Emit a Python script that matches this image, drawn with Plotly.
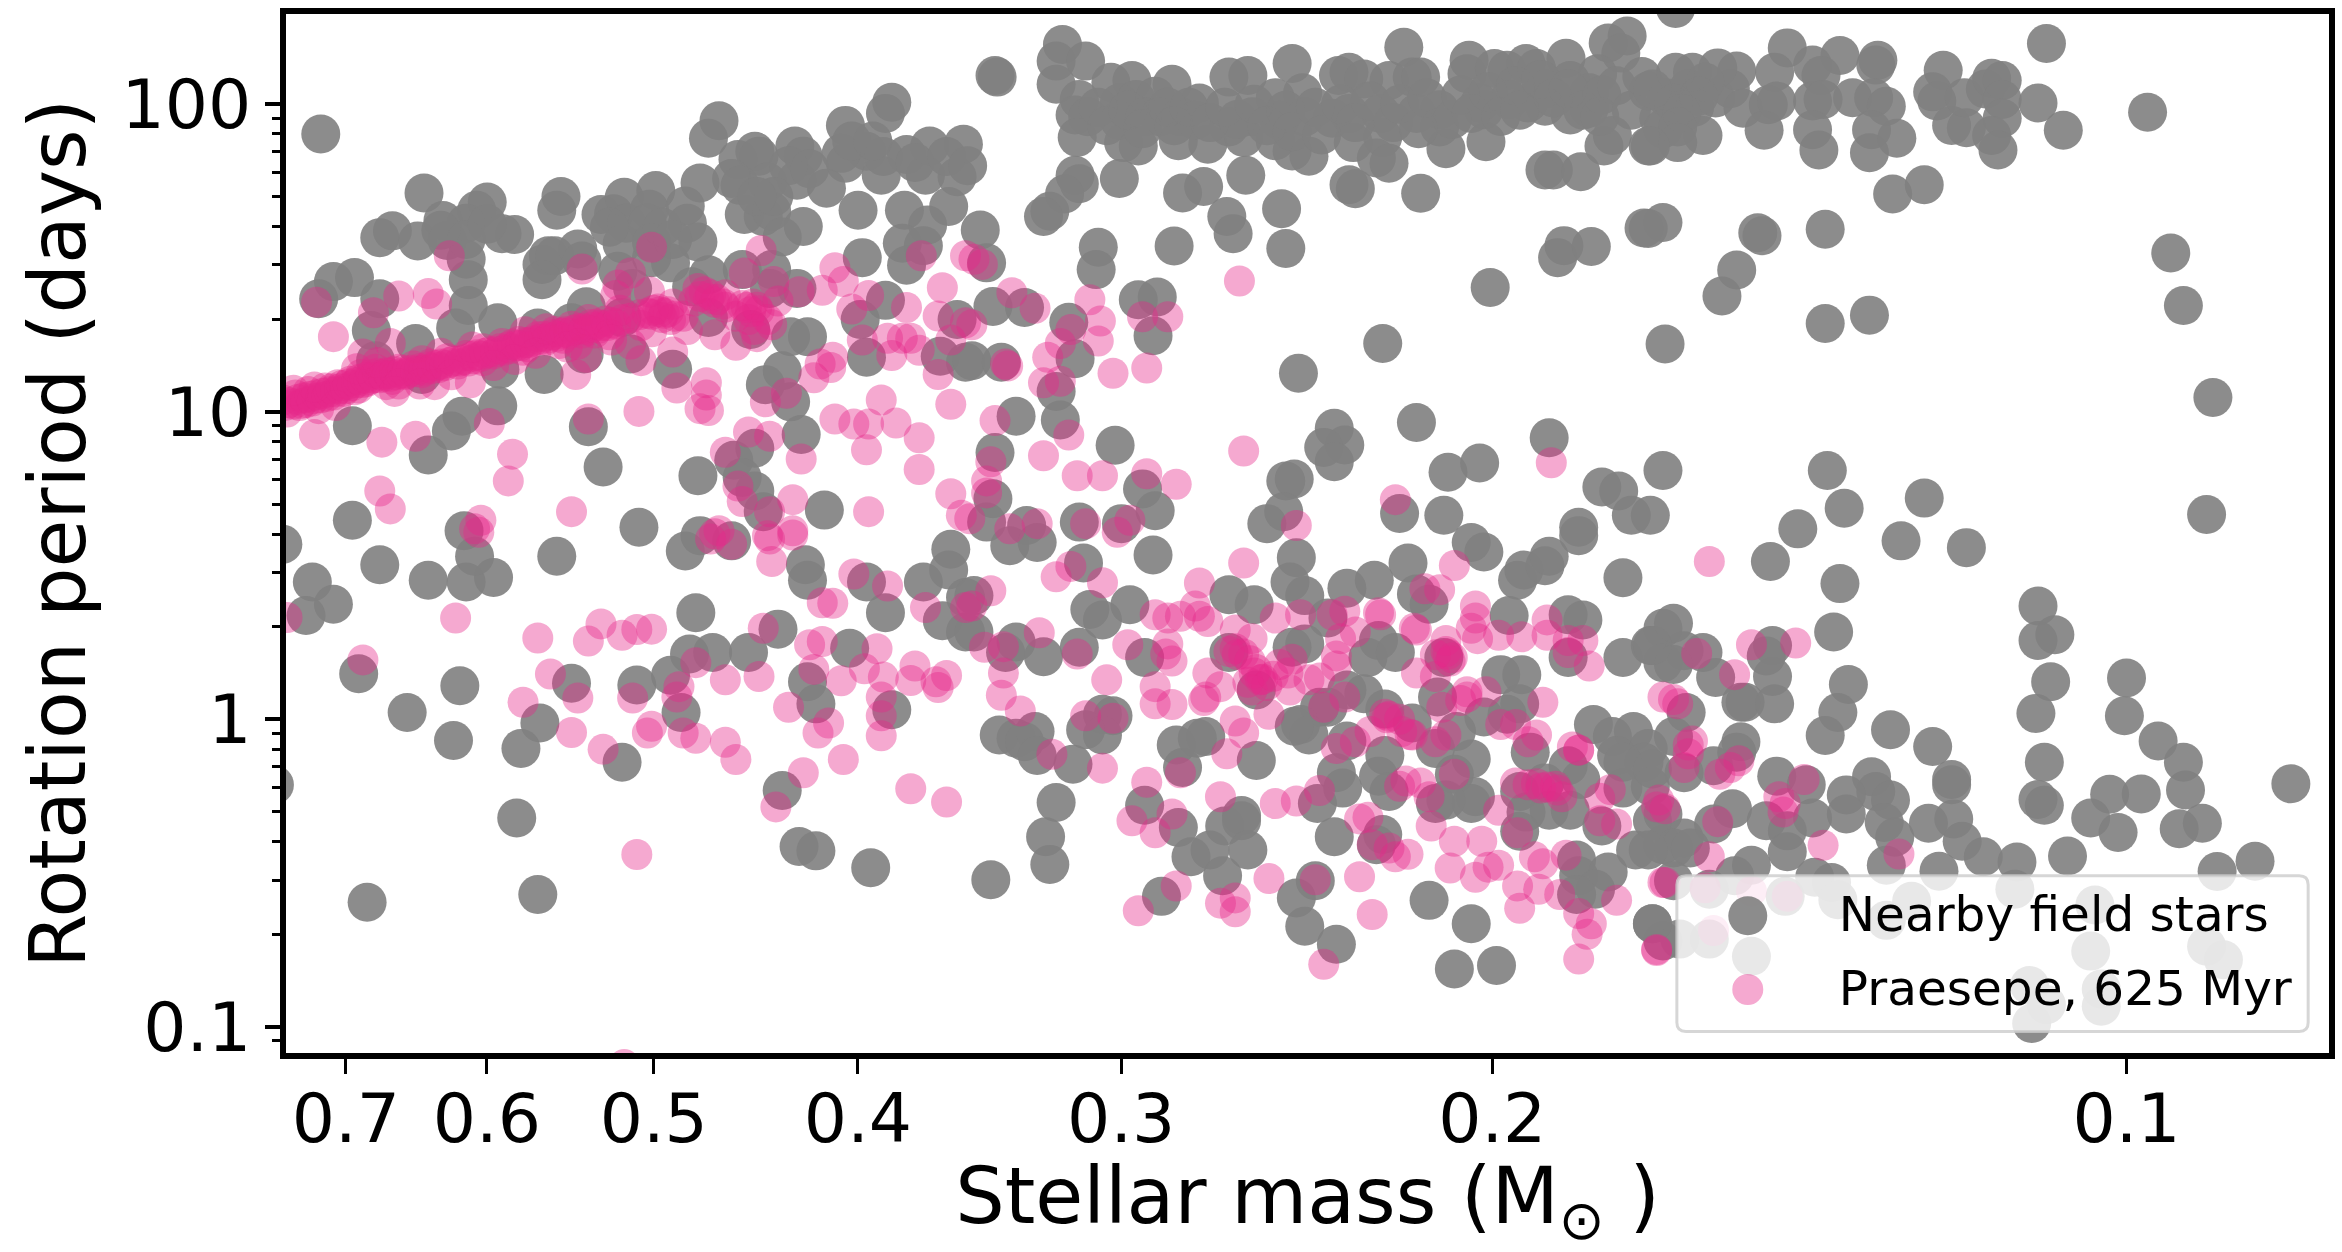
import numpy as np
import plotly.graph_objects as go

# All values below are (log10 stellar mass [Msun], log10 rotation period [days]).
field_top_left = [(-.143,1.903),(-.192,1.711),(-.222,1.682),(-.217,1.655),(-.201,1.622),(-.177,1.588),(-.171,1.566),(-.189,1.555),(-.203,1.557),(-.212,1.613),(-.235,1.576),(-.229,1.579),(-.257,1.700),(-.255,1.655),(-.276,1.641),(-.282,1.644),(-.287,1.697),(-.302,1.719),(-.299,1.658),(-.316,1.669),(-.323,1.744),(-.332,1.946),(-.327,1.889),(-.341,1.820),(-.349,1.847),(-.351,1.831),(-.368,1.864),(-.372,1.831),(-.392,1.931),(-.411,1.970),(-.414,2.006),(-.402,1.847),(-.392,1.808),(-.383,1.727),(-.338,1.758),(-.342,1.736),(-.355,1.747),(-.369,1.753),(-.344,1.641),(-.353,1.635),(-.357,1.652),(-.372,1.602),(-.362,1.568),(-.398,1.655),(-.420,1.655),(-.421,1.836),(-.409,1.769),(-.430,1.769),(-.432,1.864),(-.441,1.667),(-.445,1.764),(-.448,1.870),(-.431,1.607),(-.419,1.548),(-.429,1.540),(-.421,1.476),(-.400,1.501),(-.357,1.462),(-.343,1.462),(-.327,1.445),(-.319,1.406),(-.309,1.484),(-.300,1.501),(-.286,1.546),(-.288,1.613),(-.298,1.613),(-.317,1.613),(-.322,1.552),(-.251,1.507),(-.248,1.479),(-.254,1.507),(-.265,1.529),(-.267,1.490),(-.248,1.429),(-.284,1.457),(-.291,1.401),(-.159,1.436),(-.149,1.423),(-.142,1.367),(-.171,1.367),(-.167,1.264),(-.188,1.222),(-.212,1.496),(-.213,1.429),(-.213,1.345),(-.207,1.272),(-.227,1.289),(-.246,1.272),(-.269,1.341),(-.262,1.289),(-.286,1.306),(-.369,1.401),(-.356,1.401),(-.347,1.267),(-.366,1.244),(-.374,1.244),(-.327,1.306),(-.399,1.300),(-.411,1.362),(-.445,1.300),(-.402,1.177),(-.437,1.180),(-.449,1.161),(-.290,1.188),(-.310,1.138),(-.268,1.188),(-.249,1.121),(-.228,1.138),(-.191,1.121),(-.169,1.166),(-.362,1.133),(-.354,1.088),(-.366,1.032),(-.227,1.019),(-.210,.985),(-.205,.937),(-.194,.859),(-.158,.954),(-.270,.951),(-.371,.926),(-.349,.881),(-.339,.842),(-.277,.820),(-.322,.792),(-.343,.786),(-.349,.742),(-.353,.675),(-.382,.680),(-.158,.647),(-.211,.613),(-.294,.624)]
field_top_mid = [(-.495,2.194),(-.492,2.140),(-.506,2.140),(-.492,2.065),(-.464,2.088),(-.463,2.093),(-.518,2.071),(-.528,2.077),(-.547,2.065),(-.503,2.015),(-.501,1.965),(-.507,1.959),(-.522,2.004),(-.530,2.015),(-.539,2.026),(-.522,1.948),(-.534,1.959),(-.541,1.959),(-.551,1.959),(-.560,2.004),(-.502,1.892),(-.524,1.875),(-.531,1.864),(-.550,1.881),(-.564,1.870),(-.558,1.948),(-.574,2.088),(-.583,2.093),(-.596,2.021),(-.609,2.037),(-.604,2.132),(-.626,2.093),(-.631,2.104),(-.638,2.082),(-.650,2.077),(-.657,2.185),(-.661,2.088),(-.665,2.088),(-.688,2.143),(-.687,2.099),(-.700,2.116),(-.706,2.110),(-.715,2.132),(-.720,2.116),(-.734,2.149),(-.754,2.199),(-.763,2.222),(-.760,2.166),(-.773,2.043),(-.749,2.099),(-.736,2.077),(-.724,2.049),(-.707,2.015),(-.693,2.004),(-.674,1.982),(-.663,1.970),(-.646,1.970),(-.631,1.970),(-.623,1.954),(-.610,1.959),(-.598,1.948),(-.585,1.959),(-.574,1.926),(-.581,1.892),(-.596,1.881),(-.604,1.848),(-.612,1.831),(-.633,1.875),(-.647,1.892),(-.644,1.825),(-.650,1.808),(-.674,1.926),(-.677,1.855),(-.696,1.878),(-.695,1.982),(-.716,2.004),(-.724,1.993),(-.736,1.965),(-.745,1.987),(-.745,2.037),(-.752,1.864),(-.756,1.898),(-.773,1.864),(-.778,1.954),(-.724,1.786),(-.728,1.786),(-.741,1.780),(-.665,1.710),(-.631,1.738),(-.634,1.725),(-.582,1.769),(-.562,1.732),(-.552,1.711),(-.522,1.758),(-.501,1.769),(-.503,1.741),(-.496,1.708),(-.489,1.652),(-.486,1.635),(-.456,1.591),(-.599,1.660),(-.573,1.635),(-.576,1.579),(-.601,1.531),(-.548,1.539),(-.512,1.535),(-.511,1.462),(-.459,1.484),(-.733,1.540),(-.730,1.501),(-.746,1.537),(-.771,1.597),(-.780,1.615),(-.698,1.404),(-.647,1.222),(-.607,1.125),(-.531,1.364),(-.540,1.373),(-.538,1.247),(-.498,1.291),(-.501,1.172),(-.477,1.339),(-.462,1.342),(-.452,1.166),(-.466,1.161),(-.492,1.066),(-.473,.985),(-.494,.973),(-.520,.891),(-.463,.867),(-.462,.717),(-.459,.641),(-.503,.641),(-.523,.636),(-.478,.630),(-.533,.749),(-.539,.678),(-.601,.775),(-.605,.781),(-.600,.675),(-.592,.636),(-.663,.965),(-.624,.946),(-.629,.892),(-.619,.884),(-.624,.837),(-.726,.915),(-.678,.803),(-.693,.833),(-.655,.669),(-.676,.663),(-.751,.755),(-.759,.742),(-.765,.663),(-.740,.624),(-.780,.809)]
field_ridge = [(-.512,1.99),(-.516,1.93),(-.526,1.98),(-.533,1.92),(-.545,1.99),(-.548,1.93),(-.555,1.99),(-.565,1.94),(-.572,1.99),(-.578,1.95),(-.586,2.00),(-.592,1.93),(-.601,1.98),(-.604,1.91),(-.615,1.99),(-.618,1.90),(-.627,2.00),(-.634,1.94),(-.641,2.01),(-.652,1.94),(-.655,2.00),(-.664,1.92),(-.668,2.02),(-.680,1.95),(-.684,2.03),(-.689,1.97),(-.697,2.04),(-.703,1.96),(-.710,2.06),(-.712,1.98),(-.722,2.08),(-.728,2.02),(-.735,2.05),(-.742,1.98),(-.751,2.03),(-.758,2.06),(-.750,1.96),(-.765,1.98),(-.770,2.09),(-.782,2.02),(-.792,2.05),(-.780,1.92),(-.805,2.02),(-.795,1.99),(-.812,2.05),(-.365,1.80),(-.358,1.70),(-.350,1.70),(-.375,1.79),(-.390,1.84),(-.395,1.88),(-.410,1.83),(-.425,1.81),(-.440,1.83),(-.450,1.80),(-.405,1.88),(-.300,1.55),(-.310,1.56),(-.305,1.60),(-.280,1.60),(-.212,1.56),(-.222,1.61),(-.200,1.59)]
field_top_right = [(-.962,2.197),(-.839,2.183),(-.864,2.158),(-.882,2.143),(-.881,2.127),(-.851,2.127),(-.855,2.093),(-.833,2.104),(-.815,2.108),(-.806,2.118),(-.794,2.104),(-.786,2.104),(-.800,2.071),(-.797,2.026),(-.785,2.004),(-.775,2.049),(-.789,1.970),(-.787,1.926),(-.799,1.898),(-.787,1.875),(-.774,1.864),(-.818,1.987),(-.830,1.998),(-.834,2.010),(-.828,1.915),(-.851,2.010),(-.856,2.015),(-.851,1.917),(-.854,1.851),(-.870,2.021),(-.880,2.021),(-.886,1.993),(-.879,1.917),(-.878,1.842),(-.891,1.889),(-.913,2.110),(-.908,2.040),(-.910,2.010),(-.917,1.931),(-.924,1.923),(-.923,2.021),(-.933,2.049),(-.936,2.084),(-.941,2.077),(-.941,2.015),(-.941,1.954),(-.936,1.898),(-.939,1.851),(-.958,2.004),(-.970,1.915),(-1.010,1.974),(-.904,1.738),(-.889,1.708),(-.773,1.596),(-.825,1.582),(-.827,1.572),(-.857,1.593),(-.815,1.461),(-.808,1.376),(-.857,1.287),(-.878,1.314),(-.781,1.220),(-1.021,1.516),(-1.027,1.345),(-1.041,1.046),(-.858,.809),(-.866,.686),(-.904,.719),(-.844,.619),(-1.038,.666),(-.786,2.311),(-.774,.663)]
field_low_right = [(-.893,.580),(-.924,.558),(-.831,.513),(-.864,.441),(-.861,.284),(-.958,.368),(-.958,.256),(-.966,.275),(-.964,.122),(-.957,.019),(-1.000,.134),(-.999,.011),(-1.015,-.071),(-1.027,-.140),(-1.028,-.230),(-1.078,-.210),(-.961,-.140),(-.958,-.261),(-.961,-.280),(-.992,-.244),(-1.007,-.243),(-.983,-.321),(-.996,-.368),(-1.025,-.356),(-1.036,-.338),(-1.061,-.462),(-1.043,-.495),(-.972,-.445),(-.948,-.464),(-.932,-.447),(-.922,-.397),(-.918,-.324),(-.906,-.338),(-.917,-.213),(-.917,-.196),(-.908,-.089),(-.888,-.034),(-.868,.113),(-.863,.022),(-.857,-.053),(-.879,-.187),(-.881,-.235),(-.888,-.263),(-.885,-.336),(-.867,-.246),(-.867,-.308),(-.890,-.384),(-.886,-.475),(-.911,-.494),(-.852,-.514),(-.860,-.531),(-.834,-.185),(-.848,-.213),(-.851,-.321),(-.839,-.363),(-.829,-.330),(-.839,-.431),(-.822,-.475),(-.813,-.291),(-.804,-.341),(-.790,-.386),(-.785,-.419),(-.793,-.419),(-.817,-.073),(-.815,-.107),(-.804,-.151),(-.790,-.174),(-.785,-.056),(-.791,.022),(-.817,.055),(-.819,.055),(-.833,.050),(-.832,.139),(-.805,.136),(-.799,.217),(-.790,.223),(-.785,.178),(-.785,.312),(-.775,.240),(-.832,.240),(-.829,.206),(-.775,-.162),(-.775,-.330),(-.773,-.425),(-.785,-.525),(-.802,-.553),(-.814,-.509),(-.838,-.576),(-.863,-.587),(-.886,-.654),(-.898,-.592),(-.985,-.604),(-.947,-.553),(-.822,-.771),(-.788,-.715),(-.802,-.715),(-.775,-.665),(-.983,-.754),(-1.038,-.738),(-1.046,-.782),(-.954,-.866),(-.962,-.928),(-.988,-.933),(-.955,-.989),(-.988,-.877)]
field_low_left = [(-.171,.502),(-.194,.452),(-.212,.446),(-.225,.461),(-.216,.530),(-.255,.530),(-.139,.446),(-.149,.374),(-.136,.337),(-.125,.569),(-.161,.148),(-.209,.109),(-.184,.022),(-.206,-.069),(-.247,-.012),(-.238,-.095),(-.236,-.321),(-.246,-.570),(-.165,-.595),(-.121,-.213),(-.262,.117),(-.293,.111),(-.309,.143),(-.318,.212),(-.329,.217),(-.346,.217),(-.360,.293),(-.321,.346),(-.316,.547),(-.338,.580),(-.323,.597),(-.373,.502),(-.374,.452),(-.402,.446),(-.411,.346),(-.429,.446),(-.438,.320),(-.442,.553),(-.441,.485),(-.394,.231),(-.374,.122),(-.378,.050),(-.414,.031),(-.314,.022),(-.286,-.140),(-.362,-.232),(-.370,-.414),(-.378,-.428),(-.404,-.483),(-.449,.396),(-.449,.284)]
field_low_mid = [(-.538,.534),(-.505,.508),(-.470,.564),(-.483,.575),(-.453,.402),(-.453,.284),(-.508,.357),(-.527,.372),(-.514,.323),(-.473,.251),(-.468,.217),(-.486,.203),(-.503,.234),(-.534,.201),(-.574,.405),(-.586,.372),(-.606,.525),(-.603,.446),(-.610,.402),(-.630,.426),(-.643,.452),(-.659,.508),(-.663,.407),(-.669,.374),(-.689,.575),(-.695,.544),(-.711,.452),(-.714,.485),(-.724,.499),(-.726,.530),(-.740,.597),(-.761,.460),(-.707,.337),(-.735,.340),(-.742,.323),(-.735,.201),(-.761,.201),(-.774,.240),(-.780,.296),(-.780,.184),(-.574,.217),(-.604,.234),(-.610,.245),(-.621,.329),(-.645,.256),(-.640,.201),(-.653,.217),(-.676,.201),(-.638,.083),(-.630,.095),(-.587,.095),(-.617,.039),(-.621,.039),(-.608,-.017),(-.612,-.051),(-.605,-.023),(-.673,.072),(-.703,.145),(-.713,.145),(-.712,.050),(-.695,.007),(-.706,.016),(-.747,-.017),(-.756,-.056),(-.766,-.040),(-.773,-.095),(-.758,-.118),(-.771,-.140),(-.661,-.012),(-.648,.033),(-.682,-.040),(-.689,-.129),(-.672,-.095),(-.630,-.071),(-.648,-.118),(-.625,-.174),(-.628,-.224),(-.645,-.185),(-.650,-.235),(-.681,-.179),(-.691,-.252),(-.689,-.274),(-.672,-.274),(-.677,-.263),(-.616,-.274),(-.624,-.382),(-.647,-.375),(-.644,-.408),(-.514,.016),(-.519,.011),(-.506,-.034),(-.514,-.051),(-.465,-.051),(-.473,-.062),(-.482,-.040),(-.477,-.073),(-.483,-.118),(-.500,-.146),(-.549,-.084),(-.563,-.056),(-.552,-.157),(-.559,-.062),(-.587,-.134),(-.492,-.271),(-.487,-.382),(-.489,-.472),(-.461,-.522),(-.534,-.280),(-.550,-.352),(-.580,-.313),(-.572,-.347),(-.580,-.330),(-.583,-.425),(-.565,-.425),(-.556,-.447),(-.571,-.509),(-.542,-.576),(-.606,-.581),(-.615,-.525),(-.610,-.673),(-.625,-.732),(-.669,-.589),(-.689,-.665),(-.681,-.812),(-.701,-.801),(-.717,-.107),(-.712,-.235),(-.724,-.207),(-.735,-.151),(-.741,-.196),(-.726,-.296),(-.715,-.302),(-.736,-.296),(-.712,-.364),(-.761,-.224),(-.774,-.218),(-.761,-.140),(-.751,-.347),(-.780,-.308),(-.767,-.425),(-.739,-.458),(-.740,-.509),(-.754,-.497),(-.748,-.553),(-.739,-.570),(-.775,-.665),(-.780,-.408),(-.780,-.721)]

praesepe_band = [(-.125,1.038),(-.127,.999),(-.131,1.054),(-.134,1.027),(-.137,1.066),(-.140,1.043),(-.142,1.010),(-.145,1.077),(-.149,1.054),(-.151,1.088),(-.154,1.066),(-.157,1.099),(-.159,1.071),(-.162,1.121),(-.165,1.099),(-.169,1.138),(-.171,1.110),(-.174,1.127),(-.177,1.105),(-.180,1.138),(-.183,1.121),(-.187,1.149),(-.191,1.127),(-.195,1.155),(-.199,1.144),(-.203,1.172),(-.208,1.155),(-.212,1.183),(-.216,1.172),(-.220,1.205),(-.225,1.188),(-.229,1.222),(-.233,1.205),(-.237,1.228),(-.241,1.211),(-.246,1.244),(-.250,1.233),(-.254,1.261),(-.258,1.239),(-.262,1.278),(-.267,1.256),(-.271,1.283),(-.275,1.272),(-.278,1.295),(-.273,1.256),(-.256,1.222),(-.239,1.200),(-.220,1.166),(-.191,1.166),(-.174,1.088),(-.161,1.077),(-.303,1.334),(-.305,1.306),(-.300,1.317),(-.309,1.300),(-.325,1.390),(-.327,1.367),(-.330,1.356),(-.334,1.350),(-.345,1.339),(-.348,1.350),(-.351,1.328),(-.346,1.300),(-.349,1.267)]
praesepe_band_dense = [(-.126,1.020),(-.128,1.030),(-.130,1.025),(-.132,1.040),(-.133,1.020),(-.135,1.045),(-.136,1.030),(-.138,1.050),(-.139,1.035),(-.141,1.055),(-.143,1.045),(-.144,1.060),(-.146,1.050),(-.147,1.065),(-.148,1.075),(-.150,1.065),(-.152,1.075),(-.153,1.085),(-.155,1.075),(-.156,1.090),(-.158,1.085),(-.160,1.095),(-.161,1.105),(-.163,1.095),(-.164,1.110),(-.166,1.105),(-.167,1.120),(-.168,1.110),(-.170,1.125),(-.172,1.120),(-.173,1.115),(-.175,1.125),(-.176,1.115),(-.178,1.130),(-.179,1.120),(-.181,1.125),(-.182,1.135),(-.184,1.125),(-.186,1.135),(-.188,1.130),(-.190,1.140),(-.192,1.135),(-.194,1.145),(-.196,1.140),(-.198,1.150),(-.200,1.155),(-.202,1.150),(-.204,1.160),(-.206,1.165),(-.209,1.165),(-.211,1.170),(-.213,1.165),(-.215,1.180),(-.217,1.185),(-.219,1.180),(-.221,1.190),(-.223,1.195),(-.226,1.195),(-.228,1.205),(-.230,1.200),(-.232,1.210),(-.234,1.220),(-.236,1.215),(-.238,1.215),(-.240,1.225),(-.242,1.225),(-.244,1.230),(-.247,1.235),(-.249,1.245),(-.251,1.240),(-.253,1.250),(-.255,1.245),(-.257,1.255),(-.259,1.260),(-.261,1.255),(-.263,1.265),(-.265,1.270),(-.268,1.270),(-.270,1.265),(-.272,1.275),(-.274,1.285),(-.276,1.280),(-.279,1.280),(-.281,1.290),(-.283,1.285),(-.286,1.300),(-.290,1.305),(-.294,1.315),(-.298,1.320),(-.301,1.330),(-.304,1.325),(-.306,1.320),(-.308,1.325),(-.311,1.310),(-.323,1.375),(-.328,1.380),(-.331,1.365),(-.335,1.340),(-.343,1.345),(-.350,1.340),(-.347,1.325)]
praesepe_band_edge = [(-.16,1.14),(-.17,1.16),(-.19,1.09),(-.205,1.12),(-.215,1.21),(-.235,1.17),(-.25,1.27),(-.26,1.21),(-.28,1.25),(-.285,1.33),(-.295,1.28),(-.31,1.35),(-.315,1.31),(-.32,1.36),(-.335,1.38),(-.34,1.31),(-.355,1.30),(-.36,1.36),(-.30,1.26),(-.29,1.22),(-.15,1.02),(-.14,1.08),(-.13,1.07),(-.18,1.09),(-.2,1.19),(-.225,1.15),(-.245,1.19),(-.265,1.22),(-.27,1.30),(-.24,1.26)]
praesepe_top_left = [(-.141,1.356),(-.149,1.244),(-.180,1.376),(-.194,1.384),(-.198,1.350),(-.168,1.322),(-.176,1.222),(-.163,1.188),(-.204,1.507),(-.300,1.535),(-.267,1.464),(-.290,1.451),(-.284,1.412),(-.352,1.524),(-.387,1.468),(-.391,1.423),(-.381,1.395),(-.370,1.390),(-.358,1.423),(-.344,1.451),(-.299,1.390),(-.283,1.378),(-.322,1.401),(-.357,1.283),(-.350,1.244),(-.340,1.216),(-.330,1.250),(-.310,1.194),(-.317,1.267),(-.281,1.233),(-.295,1.166),(-.264,1.121),(-.269,1.177),(-.214,1.094),(-.197,1.088),(-.178,1.066),(-.140,.926),(-.172,.901),(-.188,.920),(-.223,.962),(-.234,.862),(-.232,.775),(-.171,.742),(-.176,.684),(-.219,.647),(-.216,.619),(-.262,.675),(-.294,1.001),(-.270,.976),(-.326,1.094),(-.326,1.054),(-.323,1.010),(-.327,1.004),(-.312,1.077),(-.380,1.155),(-.377,1.110),(-.386,1.177),(-.385,1.144),(-.354,1.032),(-.364,1.060),(-.346,.934),(-.356,.920),(-.335,.868),(-.371,.846),(-.341,.758),(-.343,.708),(-.367,.714),(-.356,.675),(-.403,.675),(-.442,.733),(-.447,.663),(-.367,.613),(-.332,.613),(-.355,.597),(-.387,.976),(-.396,.960),(-.403,.960),(-.416,.963),(-.409,1.038),(-.402,.876),(-.427,.915),(-.427,.812),(-.442,1.024),(-.436,1.121),(-.428,1.507),(-.438,1.403),(-.449,1.507),(-.403,1.378),(-.395,1.334),(-.421,1.339),(-.436,1.311),(-.412,1.239),(-.419,1.239),(-.423,1.239),(-.414,1.183),(-.427,1.200),(-.442,1.233),(-.449,1.289),(-.400,1.233)]
praesepe_top_mid = [(-.579,1.425),(-.581,.872),(-.727,.834),(-.653,.714),(-.606,.630),(-.471,1.387),(-.482,1.336),(-.452,1.283),(-.469,1.149),(-.468,1.155),(-.488,1.177),(-.494,1.222),(-.499,1.267),(-.508,1.364),(-.513,1.295),(-.512,1.230),(-.519,1.125),(-.535,1.142),(-.533,1.309),(-.545,1.309),(-.486,1.094),(-.494,1.099),(-.463,.971),(-.498,.924),(-.486,.857),(-.461,.837),(-.459,.775),(-.502,.792),(-.514,.792),(-.535,.798),(-.549,.764),(-.457,1.479),(-.453,1.496),(-.459,.736),(-.483,.636),(-.470,.619),(-.506,.636),(-.527,.647),(-.521,.608),(-.451,.652)]
praesepe_low_left = [(-.207,.329),(-.163,.193),(-.127,.331),(-.293,-.440),(-.287,-1.123),(-.246,.264),(-.276,.310),(-.270,.254),(-.286,.273),(-.293,.292),(-.300,.293),(-.252,.147),(-.265,.069),(-.239,.055),(-.262,-.043),(-.277,-.098),(-.291,.069),(-.313,.106),(-.312,.072),(-.321,.184),(-.300,-.023),(-.298,-.045),(-.315,-.045),(-.321,-.062),(-.335,.128),(-.351,.139),(-.353,.296),(-.375,.242),(-.381,.253),(-.377,.162),(-.390,.125),(-.401,.164),(-.407,.229),(-.410,.137),(-.365,.039),(-.384,-.012),(-.379,-.045),(-.335,-.075),(-.340,-.131),(-.372,-.174),(-.359,-.285),(-.391,-.131),(-.409,-.054),(-.409,.011),(-.409,.072),(-.423,-.226),(-.440,-.269),(-.425,.173),(-.423,.126),(-.435,.122),(-.440,.142),(-.436,.103),(-.396,.472),(-.412,.433),(-.381,.379),(-.386,.377),(-.430,.363),(-.449,.363),(-.357,.513),(-.356,.586),(-.367,.599),(-.330,.603),(-.338,.569),(-.328,.586),(-.218,.608)]
praesepe_low_mid = [(-.581,.508),(-.560,.443),(-.681,.500),(-.674,.421),(-.691,.368),(-.492,.463),(-.499,.497),(-.514,.444),(-.461,.418),(-.452,.368),(-.484,.281),(-.458,.234),(-.467,.236),(-.502,.212),(-.526,.242),(-.467,.150),(-.466,.078),(-.475,.027),(-.516,.128),(-.506,.011),(-.519,.003),(-.539,.340),(-.545,.329),(-.551,.335),(-.558,.368),(-.560,.335),(-.564,.318),(-.577,.290),(-.585,.262),(-.577,.229),(-.581,.212),(-.545,.245),(-.544,.212),(-.547,.189),(-.539,.106),(-.539,.050),(-.547,.048),(-.564,.150),(-.563,.072),(-.570,.106),(-.562,.061),(-.577,-.006),(-.581,-.045),(-.573,-.112),(-.514,-.159),(-.490,-.114),(-.535,-.205),(-.551,-.174),(-.570,-.252),(-.596,-.274),(-.606,-.266),(-.617,-.232),(-.528,-.330),(-.539,-.369),(-.547,-.308),(-.593,-.518),(-.549,-.542),(-.531,-.623),(-.570,-.598),(-.577,-.581),(-.577,-.626),(-.619,-.797),(-.636,-.512),(-.642,-.635),(-.615,-.522),(-.596,.329),(-.608,.340),(-.623,.340),(-.629,.351),(-.645,.346),(-.646,.340),(-.663,.290),(-.662,.296),(-.677,.256),(-.678,.212),(-.679,.189),(-.663,.150),(-.672,.139),(-.696,.089),(-.687,.089),(-.723,.055),(-.691,.329),(-.689,.296),(-.692,.262),(-.713,.268),(-.702,.273),(-.725,.323),(-.725,.273),(-.735,.256),(-.742,.256),(-.745,.173),(-.735,.217),(-.627,.262),(-.634,.284),(-.625,.206),(-.625,.173),(-.617,.134),(-.612,.128),(-.603,.095),(-.593,.016),(-.587,.162),(-.589,.128),(-.585,.095),(-.598,.178),(-.604,.195),(-.602,.150),(-.629,.072),(-.619,.039),(-.648,.016),(-.649,.005),(-.656,-.040),(-.661,-.051),(-.641,-.040),(-.634,-.073),(-.625,-.095),(-.710,-.017),(-.720,-.051),(-.716,-.073),(-.703,-.017),(-.677,-.051),(-.672,-.073),(-.675,.039),(-.684,.061),(-.687,.072),(-.665,-.207),(-.658,-.201),(-.655,-.218),(-.669,-.252),(-.681,-.179),(-.670,-.347),(-.681,-.397),(-.694,-.397),(-.679,-.484),(-.691,-.514),(-.697,-.481),(-.702,-.475),(-.711,-.542),(-.712,-.615),(-.719,-.447),(-.723,-.470),(-.721,-.553),(-.731,-.570),(-.734,-.442),(-.740,-.632),(-.744,-.699),(-.746,-.665),(-.740,-.780),(-.758,-.589),(-.777,-.752),(-.702,-.296),(-.711,-.369),(-.710,-.207),(-.716,-.213),(-.722,-.224),(-.729,-.218),(-.732,-.252),(-.740,-.101),(-.750,-.257),(-.750,-.330),(-.758,-.341),(-.755,-.229),(-.777,-.285),(-.780,.072),(-.780,-.531),(-.636,-.324),(-.640,-.319),(-.642,-.408),(-.650,-.419),(-.653,-.447),(-.659,-.439),(-.667,.424)]
praesepe_clumps = [(-.590,.13),(-.586,.15),(-.592,.11),(-.595,.14),(-.583,.12),(-.578,.21),(-.574,.22),(-.584,.19),(-.672,.21),(-.680,.20),(-.677,.22),(-.725,-.22),(-.720,-.21),(-.74,-.10),(-.737,-.09),(-.73,-.23),(-.65,.01),(-.655,.0),(-.66,-.05)]
praesepe_low_right = [(-.802,.513),(-.822,.242),(-.843,.248),(-.796,.214),(-.814,.145),(-.785,.064),(-.787,.050),(-.794,-.071),(-.792,-.084),(-.792,-.112),(-.790,-.157),(-.816,-.135),(-.812,-.157),(-.807,-.179),(-.778,-.263),(-.781,-.291),(-.806,-.333),(-.835,-.252),(-.838,-.274),(-.837,-.302),(-.847,-.196),(-.856,-.410),(-.892,-.438),(-.802,-.447),(-.781,-.531),(-.800,-.548),(-.822,-.559),(-.839,-.576),(-.804,-.687),(-.777,-.749)]

x_ticks = [0.7, 0.6, 0.5, 0.4, 0.3, 0.2, 0.1]
x_labels = ["0.7", "0.6", "0.5", "0.4", "0.3", "0.2", "0.1"]
y_ticks = [0.1, 1, 10, 100]
y_labels = ["0.1", "1", "10", "100"]
y_minor = [d * m for d in (0.01, 0.1, 1, 10, 100) for m in range(2, 10)]

field = np.array(field_top_left + field_top_mid + field_ridge + field_top_right + field_low_left + field_low_mid + field_low_right)
praesepe = np.array(praesepe_band + praesepe_band_dense + praesepe_band_edge + praesepe_top_left + praesepe_top_mid + praesepe_low_left + praesepe_low_mid + praesepe_clumps + praesepe_low_right)

FONT = "DejaVu Sans"
GRAY = "rgba(128,128,128,0.9)"
PINK = "rgba(231,41,138,0.4)"
fig = go.Figure()
fig.add_trace(go.Scatter(x=10 ** field[:, 0], y=10 ** field[:, 1], mode="markers", showlegend=False,
                         marker=dict(color=GRAY, size=39, line=dict(width=0))))
fig.add_trace(go.Scatter(x=10 ** praesepe[:, 0], y=10 ** praesepe[:, 1], mode="markers", showlegend=False,
                         marker=dict(color=PINK, size=31, line=dict(width=0))))
# Legend text entries; their keys are drawn as larger circles below (plotly caps legend marker sizes).
fig.add_trace(go.Scatter(x=[None], y=[None], mode="lines", name="Nearby field stars", legendgroup="a",
                         line=dict(width=0, color="rgba(0,0,0,0)")))
fig.add_trace(go.Scatter(x=[None], y=[None], mode="lines", name="Praesepe, 625 Myr", legendgroup="b",
                         line=dict(width=0, color="rgba(0,0,0,0)")))

bx0, bx1, by0, by1 = .6808, .9898, .0207, .1705
rx, ry = .0044, .0086
box_path = (f"M {bx0+rx},{by0} L {bx1-rx},{by0} Q {bx1},{by0} {bx1},{by0+ry} L {bx1},{by1-ry} Q {bx1},{by1} {bx1-rx},{by1} "
            f"L {bx0+rx},{by1} Q {bx0},{by1} {bx0},{by1-ry} L {bx0},{by0+ry} Q {bx0},{by0} {bx0+rx},{by0} Z")
shapes = [
    dict(type="path", xref="paper", yref="paper", path=box_path, layer="above",
         fillcolor="rgba(255,255,255,0.8)", line=dict(color="rgba(204,204,204,0.8)", width=3)),
    dict(type="circle", xref="paper", yref="paper", xsizemode="pixel", ysizemode="pixel",
         xanchor=.7155, yanchor=.1320, x0=-19.5, x1=19.5, y0=-19.5, y1=19.5, layer="above",
         fillcolor=GRAY, line=dict(width=0)),
    dict(type="circle", xref="paper", yref="paper", xsizemode="pixel", ysizemode="pixel",
         xanchor=.7155, yanchor=.0611, x0=-15.5, x1=15.5, y0=-15.5, y1=15.5, layer="above",
         fillcolor=PINK, line=dict(width=0)),
]

fig.update_layout(
    width=2342, height=1252, autosize=False,
    margin=dict(l=286, r=7, t=14, b=196, pad=0),
    paper_bgcolor="white", plot_bgcolor="white",
    font=dict(family=FONT, color="black"),
    showlegend=True, shapes=shapes,
    legend=dict(x=.7405, xanchor="left", y=.1726, yanchor="top",
                bgcolor="rgba(0,0,0,0)", borderwidth=0,
                font=dict(size=48.5, family=FONT), itemwidth=30, tracegroupgap=8),
    xaxis=dict(type="log", range=[-0.1265, -1.0961], showgrid=False, zeroline=False,
               tickmode="array", tickvals=x_ticks, ticktext=x_labels, ticks="outside", ticklen=15, tickwidth=3,
               tickcolor="black", tickfont=dict(size=68, family=FONT), ticklabelstandoff=-14,
               showline=True, linecolor="black", linewidth=6, mirror=True,
               title=dict(text="Stellar mass (M<sub>⊙</sub> )", font=dict(size=78, family=FONT), standoff=33)),
    yaxis=dict(type="log", range=[-1.0853, 2.2932], showgrid=False, zeroline=False,
               tickmode="array", tickvals=y_ticks, ticktext=y_labels, ticks="outside", ticklen=15, tickwidth=4,
               tickcolor="black", tickfont=dict(size=68, family=FONT),
               minor=dict(tickmode="array", tickvals=y_minor, ticks="outside", ticklen=8, tickwidth=3, tickcolor="black"),
               showline=True, linecolor="black", linewidth=6, mirror=True,
               title=dict(text="Rotation period (days)", font=dict(size=78, family=FONT), standoff=12)),
)
fig.write_html("out.html", config=dict(displayModeBar=False), post_script="document.body.style.margin='0';")
